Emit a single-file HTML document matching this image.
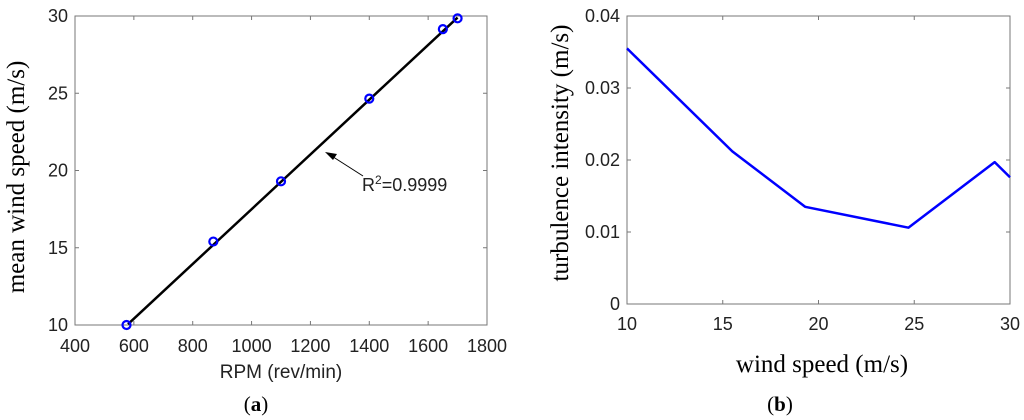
<!DOCTYPE html>
<html><head><meta charset="utf-8"><style>
html,body{margin:0;padding:0;background:#fff;}
svg{display:block;}
</style></head><body>
<svg id="fig" width="1024" height="420" xmlns="http://www.w3.org/2000/svg">
<g id="pa"></g>
<g id="pb"></g>
</svg>
<script>
// Panel (a) data
const rpmValues = [575, 870, 1100, 1400, 1650, 1700];
const meanWind = [10, 15.4, 19.3, 24.65, 29.15, 29.85];
const fitRpm = [580, 1700];
const fitWind = [10.05, 29.9];
const aXTicks = [400, 600, 800, 1000, 1200, 1400, 1600, 1800];
const aYTicks = [10, 15, 20, 25, 30];
// Panel (b) data
const windSpeed = [10, 15.5, 19.3, 24.7, 29.2, 30];
const turbulence = [0.0355, 0.0212, 0.0135, 0.0106, 0.0197, 0.0176];
const bXTicks = [10, 15, 20, 25, 30];
const bYTicks = [0, 0.01, 0.02, 0.03, 0.04];

const NS = 'http://www.w3.org/2000/svg';
function mk(parent, tag, attrs, text) {
  const e = document.createElementNS(NS, tag);
  for (const k in attrs) e.setAttribute(k, attrs[k]);
  if (text !== undefined) e.textContent = text;
  parent.appendChild(e);
  return e;
}
const sans = '"Liberation Sans", Arial, sans-serif';
const serif = '"Liberation Serif", "Times New Roman", serif';

// ---------- Panel a ----------
const A = {x0:75, x1:487, y0:325, y1:16, xmin:400, xmax:1800, ymin:10, ymax:30};
const ax = v => A.x0 + (v - A.xmin) / (A.xmax - A.xmin) * (A.x1 - A.x0);
const ay = v => A.y0 - (v - A.ymin) / (A.ymax - A.ymin) * (A.y0 - A.y1);
const pa = document.getElementById('pa');
let box = mk(pa, 'rect', {x:A.x0, y:A.y1, width:A.x1-A.x0, height:A.y0-A.y1, fill:'none', stroke:'#777', 'stroke-width':1});


aXTicks.forEach(t => {
  const x = ax(t);
  mk(pa, 'line', {x1:x, x2:x, y1:A.y0, y2:A.y0-4, stroke:'#777'});
  mk(pa, 'line', {x1:x, x2:x, y1:A.y1, y2:A.y1+4, stroke:'#777'});
  const tl = mk(pa, 'text', {x:x, y:352, 'text-anchor':'middle', 'font-family':sans, 'font-size':18, fill:'#222'}, t);
  
  
});
aYTicks.forEach(t => {
  const y = ay(t);
  mk(pa, 'line', {x1:A.x0, x2:A.x0+4, y1:y, y2:y, stroke:'#777'});
  mk(pa, 'line', {x1:A.x1, x2:A.x1-4, y1:y, y2:y, stroke:'#777'});
  const tl = mk(pa, 'text', {x:A.x0-7, y:y+6, 'text-anchor':'end', 'font-family':sans, 'font-size':18, fill:'#222'}, t);
  
  
});
const fit = mk(pa, 'line', {x1:ax(fitRpm[0]), y1:ay(fitWind[0]), x2:ax(fitRpm[1]), y2:ay(fitWind[1]), stroke:'#000', 'stroke-width':2.5});


rpmValues.forEach((r, i) => {
  const c = mk(pa, 'circle', {cx:ax(r), cy:ay(meanWind[i]), r:4, fill:'none', stroke:'#0000ff', 'stroke-width':2.2});
  
  
});
const arr = mk(pa, 'g', {});


mk(arr, 'line', {x1:363, y1:176, x2:327, y2:153, stroke:'#000', 'stroke-width':1});
mk(arr, 'path', {d:'M325,152 L337,154 L333,160 Z', fill:'#000'});
const r2 = mk(pa, 'text', {x:362, y:191, 'font-family':sans, 'font-size':18, fill:'#222'});


r2.innerHTML = 'R<tspan dy="-7" font-size="12">2</tspan><tspan dy="7">=0.9999</tspan>';
let t1 = mk(pa, 'text', {x:281, y:378, 'text-anchor':'middle', 'font-family':sans, 'font-size':19, fill:'#222'}, 'RPM (rev/min)');


let t2 = mk(pa, 'text', {x:0, y:0, transform:'translate(24,177) rotate(-90)', 'text-anchor':'middle', 'font-family':serif, 'font-size':25, fill:'#000'}, 'mean wind speed (m/s)');


let t3 = mk(pa, 'text', {x:256, y:411, 'text-anchor':'middle', 'font-family':serif, 'font-size':21, fill:'#000'});


t3.innerHTML = '(<tspan font-weight="bold">a</tspan>)';

// ---------- Panel b ----------
const B = {x0:627, x1:1010, y0:304, y1:16, xmin:10, xmax:30, ymin:0, ymax:0.04};
const bx = v => B.x0 + (v - B.xmin) / (B.xmax - B.xmin) * (B.x1 - B.x0);
const by = v => B.y0 - (v - B.ymin) / (B.ymax - B.ymin) * (B.y0 - B.y1);
const pb = document.getElementById('pb');
box = mk(pb, 'rect', {x:B.x0, y:B.y1, width:B.x1-B.x0, height:B.y0-B.y1, fill:'none', stroke:'#777', 'stroke-width':1});


bXTicks.forEach(t => {
  const x = bx(t);
  mk(pb, 'line', {x1:x, x2:x, y1:B.y0, y2:B.y0-4, stroke:'#777'});
  mk(pb, 'line', {x1:x, x2:x, y1:B.y1, y2:B.y1+4, stroke:'#777'});
  const tl = mk(pb, 'text', {x:x, y:330, 'text-anchor':'middle', 'font-family':sans, 'font-size':18, fill:'#222'}, t);
  
  
});
bYTicks.forEach(t => {
  const y = by(t);
  mk(pb, 'line', {x1:B.x0, x2:B.x0+4, y1:y, y2:y, stroke:'#777'});
  mk(pb, 'line', {x1:B.x1, x2:B.x1-4, y1:y, y2:y, stroke:'#777'});
  const tl = mk(pb, 'text', {x:B.x0-7, y:y+6, 'text-anchor':'end', 'font-family':sans, 'font-size':18, fill:'#222'}, t === 0 ? '0' : t.toFixed(2));
  
  
});
const pts = windSpeed.map((w, i) => bx(w) + ',' + by(turbulence[i])).join(' ');
const pl = mk(pb, 'polyline', {points:pts, fill:'none', stroke:'#0000ff', 'stroke-width':2.5, 'stroke-linejoin':'round'});


t1 = mk(pb, 'text', {x:822, y:372, 'text-anchor':'middle', 'font-family':serif, 'font-size':25, fill:'#000'}, 'wind speed (m/s)');


t2 = mk(pb, 'text', {x:0, y:0, transform:'translate(568,153) rotate(-90)', 'text-anchor':'middle', 'font-family':serif, 'font-size':25, fill:'#000'}, 'turbulence intensity (m/s)');


t3 = mk(pb, 'text', {x:780, y:411, 'text-anchor':'middle', 'font-family':serif, 'font-size':21, fill:'#000'});


t3.innerHTML = '(<tspan font-weight="bold">b</tspan>)';
</script>
</body></html>
